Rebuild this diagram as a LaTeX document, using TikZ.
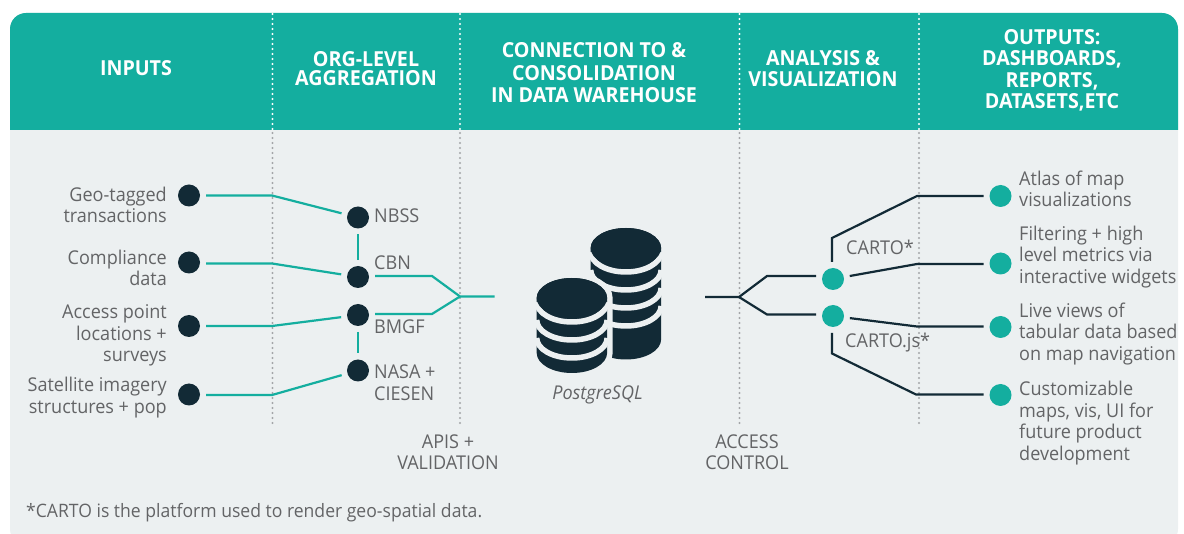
\documentclass[tikz,border=0pt]{standalone}
\usepackage{fontspec}
\setmainfont[FakeStretch=0.95]{Open Sans}
\definecolor{teal1}{HTML}{14AE9F}
\definecolor{dark1}{HTML}{122A36}
\definecolor{panel}{HTML}{ECF0F1}
\definecolor{txt}{HTML}{636466}
\definecolor{dotgrey}{HTML}{A3A6A8}
\tikzset{
 head/.style={text=white,align=center,inner sep=0pt,font=\fontsize{20.7}{21.5}\selectfont\bfseries},
 lab/.style={text=txt,inner sep=0pt,font=\fontsize{19}{21.5}\selectfont},
 darkdot/.style={circle,fill=dark1,minimum size=22pt,inner sep=0pt,outer sep=6pt},
 tealdot/.style={circle,fill=teal1,minimum size=22pt,inner sep=0pt,outer sep=6pt},
 tealline/.style={draw=teal1,line width=2.2pt,line join=miter},
 darkline/.style={draw=dark1,line width=2.2pt,line join=miter},
 sepwhite/.style={draw=white,line width=2.2pt,line cap=round,dash pattern=on 0pt off 5pt},
 sepgrey/.style={draw=dotgrey,line width=2.2pt,line cap=round,dash pattern=on 0pt off 5pt},
}
\begin{document}
\begin{tikzpicture}[x=1pt,y=-1pt]
\useasboundingbox (0,0) rectangle (1184,534);
% panel
\fill[panel,rounded corners=16pt] (10,13) rectangle (1178,545);
\fill[white] (0,534) rectangle (1184,550);
\fill[teal1] (10,130) -- (10,29) arc[start angle=180,end angle=270,radius=16] -- (1162,13) arc[start angle=270,end angle=360,radius=16] -- (1178,130) -- cycle;
% separators
\foreach \x in {272.5,460,739.5,919}{
 \draw[sepwhite] (\x,14) -- (\x,129);
 \draw[sepgrey] (\x,133) -- (\x,423);
}
% headers
\node[head] (h1) at (136,68) {INPUTS};
\node[head,font=\fontsize{20.7}{19}\selectfont\bfseries] (h2) at (366,69) {ORG-LEVEL\\AGGREGATION};
\node[head,font=\fontsize{20.7}{22.5}\selectfont\bfseries] (h3) at (594,73) {CONNECTION TO \&\\CONSOLIDATION\\IN DATA WAREHOUSE};
\node[head] (h4) at (823,68.5) {ANALYSIS \&\\VISUALIZATION};
\node[head] (h5) at (1052,70.5) {OUTPUTS:\\DASHBOARDS,\\REPORTS,\\DATASETS,ETC};
% input dots
\node[darkdot] (i1) at (189,195.5) {};
\node[darkdot] (i2) at (189,262.5) {};
\node[darkdot] (i3) at (189,326) {};
\node[darkdot] (i4) at (189,394.5) {};
\node[lab,anchor=east,align=right] (t1) at (167,205) {Geo-tagged\\transactions};
\node[lab,anchor=east,align=right] (t2) at (167,268) {Compliance\\data};
\node[lab,anchor=east,align=right] (t3) at (167,335.5) {Access point\\locations +\\surveys};
\node[lab,anchor=east,align=right] (t4) at (167,397.5) {Satellite imagery\\structures + pop};
% org dots
\node[darkdot] (o1) at (358,217.5) {};
\node[darkdot] (o2) at (358,277) {};
\node[darkdot] (o3) at (358,315) {};
\node[darkdot] (o4) at (358,370.5) {};
\node[lab,anchor=west] (n1) at (374,216) {NBSS};
\node[lab,anchor=west] (n2) at (374,263) {CBN};
\node[lab,anchor=west] (n3) at (374,327) {BMGF};
\node[lab,anchor=west,align=left] (n4) at (374,382.5) {NASA +\\CIESEN};
% bends left
\coordinate (b1) at (272,195.5);
\coordinate (b2) at (272,263.5);
\coordinate (b3) at (272,326);
\coordinate (b4) at (272,395);
\draw[tealline] (i1.east) -- (b1) -- (o1);
\draw[tealline] (i2.east |- b2) -- (b2) -- (o2);
\draw[tealline] (i3.east) -- (b3) -- (o3);
\draw[tealline] (i4.east |- b4) -- (b4) -- (o4);
\draw[tealline] (o1) -- (o2);
\draw[tealline] (o3) -- (o4);
\coordinate (c1) at (432,276);
\coordinate (c2) at (432,314);
\coordinate (j1) at (460,296.5);
\coordinate (j2) at (494.5,296.5);
\draw[tealline] (o2.east |- c1) -- (c1) -- (j1) -- (j2);
\draw[tealline] (o3.east |- c2) -- (c2) -- (j1);
% database icon: back stack
\fill[dark1] (590.7,248) arc[x radius=35.2,y radius=20,start angle=180,end angle=360] -- (661.1,339.5)
   arc[x radius=35.2,y radius=20,start angle=0,end angle=180] -- cycle;
\foreach \y in {252,270,288,306}{
  \draw[panel,line width=5.5pt] (590.7,\y) arc[x radius=35.2,y radius=20,start angle=180,end angle=0];
}
\fill[dark1] (625.9,248) ellipse[x radius=35.2,y radius=20];
% halo of front stack
\fill[panel,draw=panel,line width=11pt] (536.7,298) arc[x radius=35.2,y radius=20,start angle=180,end angle=360] -- (607.1,353)
   arc[x radius=35.2,y radius=20,start angle=0,end angle=180] -- cycle;
% front stack
\fill[dark1] (536.7,298) arc[x radius=35.2,y radius=20,start angle=180,end angle=360] -- (607.1,353)
   arc[x radius=35.2,y radius=20,start angle=0,end angle=180] -- cycle;
\foreach \y in {302,320,338}{
  \draw[panel,line width=5.5pt] (536.7,\y) arc[x radius=35.2,y radius=20,start angle=180,end angle=0];
}
\fill[dark1] (571.9,298) ellipse[x radius=35.2,y radius=20];
\node[lab,anchor=center,font=\fontsize{19}{21.5}\selectfont\itshape] (pg) at (597.5,395) {PostgreSQL};
\node[lab,align=center] (api) at (448,452) {APIS +\\VALIDATION};
\node[lab,align=center] (acc) at (747,452) {ACCESS\\CONTROL};
% analysis dots
\node[tealdot] (a1) at (833,279) {};
\node[tealdot] (a2) at (833,316) {};
\node[lab,anchor=west] (l1) at (846,247) {CARTO*};
\node[lab,anchor=west] (l2) at (845,343) {CARTO.js*};
% output dots
\node[tealdot] (p1) at (1000.5,196) {};
\node[tealdot] (p2) at (1000.5,263.5) {};
\node[tealdot] (p3) at (1000.5,327) {};
\node[tealdot] (p4) at (1000.5,395) {};
\node[lab,anchor=west,align=left] (q1) at (1019,189) {Atlas of map\\visualizations};
\node[lab,anchor=west,align=left] (q2) at (1019,257) {Filtering + high\\level metrics via\\interactive widgets};
\node[lab,anchor=west,align=left] (q3) at (1019,334) {Live views of\\tabular data based\\on map navigation};
\node[lab,anchor=west,align=left] (q4) at (1019,423) {Customizable\\maps, vis, UI for\\future product\\development};
% connectors right
\coordinate (s0) at (705,297);
\coordinate (s1) at (739,297);
\coordinate (s2) at (767,276);
\coordinate (s3) at (767,314.5);
\draw[darkline] (s0) -- (s1) -- (s2) -- (a1.west |- s2);
\draw[darkline] (s1) -- (s3) -- (a2.west |- s3);
\coordinate (u1) at (832,238);
\coordinate (u2) at (917,196);
\coordinate (u3) at (917,264);
\coordinate (u4) at (917,326.5);
\coordinate (u5) at (832,353.5);
\coordinate (u6) at (916,394.5);
\draw[darkline] (a1.north -| u1) -- (u1) -- (u2) -- (p1.west);
\draw[darkline] (a1) -- (u3) -- (p2.west |- u3);
\draw[darkline] (a2) -- (u4) -- (p3.west |- u4);
\draw[darkline] (a2.south -| u5) -- (u5) -- (u6) -- (p4.west |- u6);
% footnote
\node[lab,anchor=west,font=\fontsize{18.5}{21.5}\selectfont] (fn) at (26,513) {*CARTO is the platform used to render geo-spatial data.};
\end{tikzpicture}
\end{document}
